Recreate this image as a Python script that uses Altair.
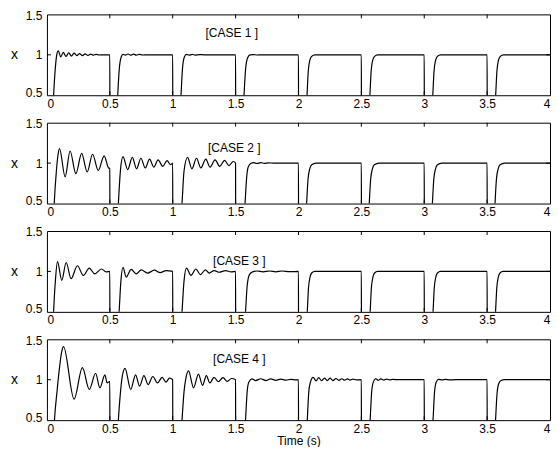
import altair as alt
import pandas as pd

# ---------------- data ----------------
X_TICKS = [0, 0.5, 1, 1.5, 2, 2.5, 3, 3.5, 4]
Y_TICKS = [0.5, 1, 1.5]
INNER_X_TICKS = [0.5, 1, 1.5, 2, 2.5, 3, 3.5]
INNER_Y_TICKS = [1]

CASE_LABELS = ["[CASE 1 ]", "[CASE 2 ]", "[CASE 3 ]", "[CASE 4 ]"]
LABEL_T = [1.47, 1.49, 1.53, 1.53]
LABEL_X = [1.27, 1.19, 1.13, 1.26]

CASE1_T = [0.0, 0.04, 0.053, 0.065, 0.078, 0.09, 0.11, 0.13, 0.152, 0.173, 0.195, 0.216, 0.238, 0.26, 0.282,
           0.304, 0.326, 0.348, 0.37, 0.392, 0.415, 0.44, 0.5, 0.501,
           0.55, 0.563, 0.575, 0.59, 0.605, 0.625, 0.645, 0.665, 0.69, 0.71, 0.735, 0.76, 0.8, 1.0, 1.001,
           1.05, 1.066, 1.078, 1.092, 1.11, 1.13, 1.155, 1.18, 1.21, 1.25, 1.5, 1.501,
           1.55, 1.567, 1.58, 1.595, 1.615, 1.64, 1.67, 1.7, 2.0, 2.001,
           2.05, 2.068, 2.078, 2.09, 2.105, 2.13, 2.5, 2.501,
           2.55, 2.568, 2.578, 2.59, 2.605, 2.63, 3.0, 3.001,
           3.05, 3.068, 3.078, 3.09, 3.105, 3.13, 3.5, 3.501,
           3.55, 3.568, 3.578, 3.59, 3.605, 3.63, 4.0]
CASE1_X = [0.0, 0.0, 0.5, 0.8, 1.0, 1.05, 0.975, 1.03, 0.98, 1.025, 0.985, 1.02, 0.99, 1.015, 0.99,
           1.012, 0.993, 1.008, 0.995, 1.005, 0.998, 1.0, 1.0, 0.0,
           0.0, 0.5, 0.82, 0.97, 1.005, 0.995, 1.01, 0.995, 1.008, 0.997, 1.005, 0.998, 1.0, 1.0, 0.0,
           0.0, 0.5, 0.83, 0.97, 1.005, 0.995, 1.005, 0.997, 1.003, 1.0, 1.0, 0.0,
           0.0, 0.5, 0.83, 0.96, 1.0, 1.003, 0.998, 1.0, 1.0, 0.0,
           0.0, 0.5, 0.8, 0.93, 0.98, 1.0, 1.0, 0.0,
           0.0, 0.5, 0.8, 0.93, 0.98, 1.0, 1.0, 0.0,
           0.0, 0.5, 0.8, 0.93, 0.98, 1.0, 1.0, 0.0,
           0.0, 0.5, 0.8, 0.93, 0.98, 1.0, 1.0]

CASE2_T = [0.0, 0.045, 0.058, 0.075, 0.088, 0.1, 0.145, 0.184, 0.23, 0.276, 0.32, 0.363, 0.408, 0.455, 0.49, 0.5, 0.501,
           0.55, 0.568, 0.585, 0.605, 0.642, 0.679, 0.713, 0.747, 0.782, 0.816, 0.85, 0.884, 0.921, 0.955, 0.984, 1.0, 1.001,
           1.05, 1.074, 1.09, 1.118, 1.153, 1.189, 1.224, 1.263, 1.297, 1.337, 1.374, 1.413, 1.447, 1.482, 1.5, 1.501,
           1.55, 1.575, 1.588, 1.6, 1.62, 1.645, 1.67, 1.7, 1.73, 1.76, 1.8, 2.0, 2.001,
           2.05, 2.065, 2.076, 2.09, 2.105, 2.14, 2.5, 2.501,
           2.55, 2.563, 2.574, 2.588, 2.603, 2.64, 3.0, 3.001,
           3.05, 3.065, 3.076, 3.09, 3.105, 3.14, 3.5, 3.501,
           3.55, 3.563, 3.574, 3.588, 3.603, 3.64, 4.0]
CASE2_X = [0.0, 0.0, 0.5, 0.9, 1.1, 1.18, 0.83, 1.15, 0.87, 1.12, 0.89, 1.11, 0.91, 1.09, 0.94, 0.935, 0.0,
           0.0, 0.5, 0.92, 1.08, 0.92, 1.07, 0.93, 1.06, 0.94, 1.05, 0.95, 1.04, 0.96, 1.03, 0.98, 1.0, 0.0,
           0.0, 0.5, 0.9, 1.07, 0.93, 1.06, 0.94, 1.05, 0.95, 1.04, 0.96, 1.035, 0.97, 1.02, 1.0, 0.0,
           0.0, 0.5, 0.82, 0.95, 0.995, 1.005, 0.995, 1.005, 0.997, 1.003, 1.0, 1.0, 0.0,
           0.0, 0.5, 0.8, 0.93, 0.98, 1.0, 1.0, 0.0,
           0.0, 0.5, 0.8, 0.93, 0.98, 1.0, 1.0, 0.0,
           0.0, 0.5, 0.8, 0.93, 0.98, 1.0, 1.0, 0.0,
           0.0, 0.5, 0.8, 0.93, 0.98, 1.0, 1.0]

CASE3_T = [0.0, 0.04, 0.053, 0.068, 0.084, 0.118, 0.153, 0.192, 0.242, 0.29, 0.337, 0.38, 0.434, 0.47, 0.5, 0.501,
           0.55, 0.574, 0.588, 0.605, 0.63, 0.67, 0.71, 0.75, 0.8, 0.855, 0.9, 0.947, 1.0, 1.001,
           1.05, 1.074, 1.09, 1.11, 1.145, 1.184, 1.22, 1.26, 1.29, 1.33, 1.37, 1.42, 1.465, 1.5, 1.501,
           1.55, 1.579, 1.592, 1.61, 1.635, 1.67, 1.72, 1.77, 1.82, 1.87, 1.93, 2.0, 2.001,
           2.05, 2.07, 2.08, 2.092, 2.105, 2.13, 2.5, 2.501,
           2.55, 2.57, 2.58, 2.592, 2.605, 2.63, 3.0, 3.001,
           3.05, 3.07, 3.08, 3.092, 3.105, 3.13, 3.5, 3.501,
           3.55, 3.567, 3.577, 3.589, 3.602, 3.627, 4.0]
CASE3_X = [0.0, 0.0, 0.5, 0.9, 1.12, 0.89, 1.11, 0.91, 1.07, 0.95, 1.04, 0.97, 1.03, 0.995, 1.0, 0.0,
           0.0, 0.5, 0.88, 1.05, 0.93, 1.025, 0.97, 1.02, 0.98, 1.015, 0.985, 1.01, 1.0, 0.0,
           0.0, 0.5, 0.88, 1.04, 0.95, 1.03, 0.96, 1.02, 0.98, 1.01, 0.99, 1.01, 0.995, 1.0, 0.0,
           0.0, 0.5, 0.82, 0.96, 0.995, 1.005, 0.995, 1.005, 0.995, 1.005, 0.997, 1.0, 0.0,
           0.0, 0.5, 0.8, 0.93, 0.98, 1.0, 1.0, 0.0,
           0.0, 0.5, 0.8, 0.93, 0.98, 1.0, 1.0, 0.0,
           0.0, 0.5, 0.8, 0.93, 0.98, 1.0, 1.0, 0.0,
           0.0, 0.5, 0.8, 0.93, 0.98, 1.0, 1.0]

CASE4_T = [0.0, 0.045, 0.06, 0.08, 0.1, 0.118, 0.132, 0.216, 0.282, 0.337, 0.387, 0.421, 0.461, 0.479, 0.5, 0.501,
           0.55, 0.568, 0.585, 0.6, 0.621, 0.666, 0.705, 0.737, 0.771, 0.805, 0.842, 0.879, 0.916, 0.947, 0.974, 1.0, 1.001,
           1.05, 1.074, 1.09, 1.105, 1.126, 1.166, 1.205, 1.237, 1.268, 1.295, 1.329, 1.363, 1.4, 1.434, 1.468, 1.5, 1.501,
           1.55, 1.579, 1.592, 1.605, 1.63, 1.66, 1.7, 1.74, 1.78, 1.82, 1.86, 1.9, 1.94, 1.98, 2.0, 2.001,
           2.05, 2.07, 2.082, 2.095, 2.117, 2.14, 2.161, 2.184, 2.207, 2.229, 2.251, 2.275, 2.298, 2.321, 2.345,
           2.367, 2.389, 2.411, 2.433, 2.46, 2.5, 2.501,
           2.55, 2.57, 2.582, 2.595, 2.614, 2.635, 2.655, 2.68, 2.7, 2.725, 2.75, 2.8, 3.0, 3.001,
           3.05, 3.07, 3.082, 3.095, 3.115, 3.14, 3.17, 3.2, 3.25, 3.5, 3.501,
           3.55, 3.567, 3.579, 3.592, 3.61, 3.64, 4.0]
CASE4_X = [0.0, 0.0, 0.5, 0.85, 1.15, 1.35, 1.41, 0.76, 1.15, 0.88, 1.08, 0.9, 1.06, 0.96, 0.98, 0.0,
           0.0, 0.5, 0.85, 1.05, 1.14, 0.88, 1.06, 0.92, 1.05, 0.94, 1.04, 0.96, 1.03, 0.97, 1.02, 1.0, 0.0,
           0.0, 0.5, 0.85, 1.02, 1.11, 0.9, 1.07, 0.93, 1.05, 0.96, 1.03, 0.975, 1.025, 0.98, 1.015, 1.0, 0.0,
           0.0, 0.5, 0.85, 0.97, 1.01, 0.99, 1.012, 0.99, 1.01, 0.993, 1.008, 0.995, 1.005, 0.998, 1.0, 0.0,
           0.0, 0.5, 0.85, 0.97, 1.03, 0.985, 1.025, 0.987, 1.02, 0.99, 1.02, 0.99, 1.015, 0.992, 1.012,
           0.994, 1.01, 0.995, 1.008, 0.998, 1.0, 0.0,
           0.0, 0.5, 0.85, 0.97, 1.012, 0.993, 1.01, 0.995, 1.008, 0.997, 1.004, 1.0, 1.0, 0.0,
           0.0, 0.5, 0.85, 0.97, 1.005, 0.997, 1.004, 0.998, 1.0, 1.0, 0.0,
           0.0, 0.5, 0.83, 0.95, 0.99, 1.0, 1.0]

CASES = [(CASE1_T, CASE1_X), (CASE2_T, CASE2_X), (CASE3_T, CASE3_X), (CASE4_T, CASE4_X)]

# ---------------- chart ----------------
W, H = 504, 81
FONT = "Liberation Sans"
TICK_LEN = 4


def panel(i, ts, xs, last):
    df = pd.DataFrame({"t": ts, "x": xs})
    xscale = alt.Scale(domain=[0, 4], nice=False, zero=False)
    yscale = alt.Scale(domain=[0.5, 1.5], nice=False, zero=False)

    xaxis_kw = dict(values=X_TICKS, format="~g", ticks=False, labelPadding=3, labelFlush=True,
                    labelOverlap=False, labelFontSize=12, grid=False, domain=False)
    if last:
        xaxis_kw.update(title="Time (s)", titleFontSize=12, titleFontWeight="normal", titlePadding=1)
    else:
        xaxis_kw.update(title=None)

    yaxis = alt.Axis(values=Y_TICKS, format="~g", ticks=False, labelPadding=5, labelFontSize=12,
                     labelOverlap=False, grid=False, domain=False,
                     labelFlush=True, labelFlushOffset=4,
                     title="x", titleAngle=0, titleX=-33, titleY=H / 2, titleAlign="center",
                     titleBaseline="middle", titleFontSize=14, titleFontWeight="normal")

    line = alt.Chart(df).mark_line(color="black", strokeWidth=1.2, clip=True, interpolate="monotone").encode(
        x=alt.X("t:Q", scale=xscale, axis=alt.Axis(**xaxis_kw)),
        y=alt.Y("x:Q", scale=yscale, axis=yaxis),
    )

    xt = pd.DataFrame({"t": INNER_X_TICKS})
    yt = pd.DataFrame({"x": INNER_Y_TICKS})
    top_ticks = alt.Chart(xt).mark_rule(color="black", strokeWidth=1).encode(
        x=alt.X("t:Q", scale=xscale), y=alt.value(0), y2=alt.value(TICK_LEN))
    bot_ticks = alt.Chart(xt).mark_rule(color="black", strokeWidth=1).encode(
        x=alt.X("t:Q", scale=xscale), y=alt.value(H - TICK_LEN), y2=alt.value(H))
    left_ticks = alt.Chart(yt).mark_rule(color="black", strokeWidth=1).encode(
        y=alt.Y("x:Q", scale=yscale), x=alt.value(0), x2=alt.value(TICK_LEN))
    right_ticks = alt.Chart(yt).mark_rule(color="black", strokeWidth=1).encode(
        y=alt.Y("x:Q", scale=yscale), x=alt.value(W - TICK_LEN), x2=alt.value(W))

    lab = pd.DataFrame({"t": [LABEL_T[i]], "x": [LABEL_X[i]], "label": [CASE_LABELS[i]]})
    text = alt.Chart(lab).mark_text(font=FONT, fontSize=12, color="black").encode(
        x=alt.X("t:Q", scale=xscale), y=alt.Y("x:Q", scale=yscale), text="label:N")

    return alt.layer(line, top_ticks, bot_ticks, left_ticks, right_ticks, text).properties(width=W, height=H)


panels = [panel(i, t, x, i == 3) for i, (t, x) in enumerate(CASES)]

chart = alt.vconcat(*panels, spacing=27.5, bounds="flush").configure(
    padding={"left": 2, "top": 0, "right": 0, "bottom": 0},
    background="white",
).configure_view(
    stroke="black", strokeWidth=1
).configure_axis(
    labelFont=FONT, titleFont=FONT, labelColor="black", titleColor="black"
)

chart.save("out.html", embed_options={"renderer": "svg", "actions": False})
